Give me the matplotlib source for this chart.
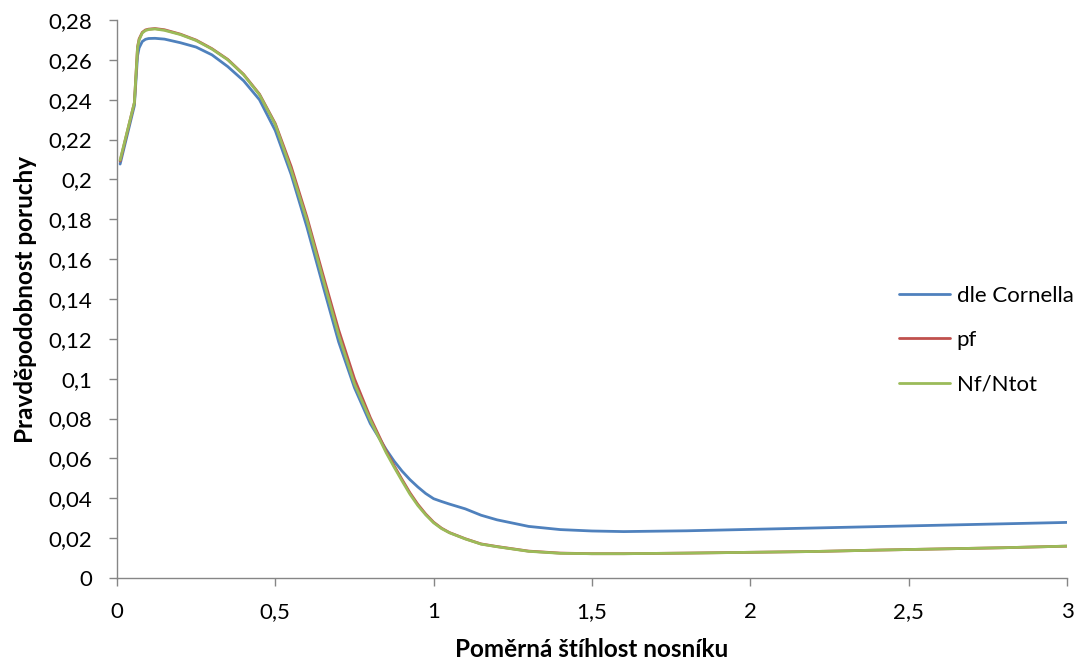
import matplotlib
matplotlib.use("Agg")
import matplotlib.pyplot as plt

plt.rcParams['font.family'] = ['Lato', 'DejaVu Sans']

x = [0.01, 0.055, 0.065, 0.07, 0.08, 0.09, 0.1, 0.12, 0.15, 0.2, 0.25, 0.3, 0.35, 0.4,
     0.45, 0.5, 0.55, 0.6, 0.65, 0.7, 0.75, 0.8, 0.85, 0.875, 0.9, 0.925, 0.95, 0.975,
     1.0, 1.025, 1.05, 1.1, 1.15, 1.2, 1.3, 1.4, 1.5, 1.6, 1.8, 2.0, 2.2, 2.4, 2.6,
     2.8, 3.0]

cornell = [0.2077, 0.2370, 0.2620, 0.2660, 0.2692, 0.2703, 0.2707, 0.2708, 0.2704, 0.2686,
           0.2664, 0.2625, 0.2566, 0.2495, 0.2400, 0.2245, 0.2025, 0.1760, 0.1470, 0.1185,
           0.0955, 0.0775, 0.0645, 0.0587, 0.0537, 0.0494, 0.0457, 0.0424, 0.0398, 0.0384,
           0.0371, 0.0347, 0.0315, 0.0292, 0.0259, 0.0243, 0.0236, 0.0233, 0.0237, 0.0244,
           0.0251, 0.0258, 0.0265, 0.0272, 0.0279]

pf = [0.2092, 0.2385, 0.2665, 0.2705, 0.2738, 0.2750, 0.2754, 0.2757, 0.2751, 0.2729,
      0.2699, 0.2656, 0.2602, 0.2527, 0.2428, 0.2280, 0.2065, 0.1810, 0.1525, 0.1245,
      0.1000, 0.0805, 0.0637, 0.0564, 0.0495, 0.0428, 0.0370, 0.0321, 0.0280, 0.0250,
      0.0228, 0.0197, 0.0171, 0.0158, 0.0135, 0.0125, 0.0122, 0.0122, 0.0125, 0.0129,
      0.0133, 0.0140, 0.0146, 0.0152, 0.0160]

nf = [0.2097, 0.2385, 0.2660, 0.2700, 0.2735, 0.2747, 0.2752, 0.2755, 0.2748, 0.2727,
      0.2697, 0.2654, 0.2600, 0.2525, 0.2425, 0.2275, 0.2048, 0.1795, 0.1505, 0.1220,
      0.0975, 0.0793, 0.0629, 0.0557, 0.0488, 0.0421, 0.0364, 0.0317, 0.0277, 0.0248,
      0.0227, 0.0196, 0.0170, 0.0157, 0.0134, 0.0124, 0.0122, 0.0122, 0.0125, 0.0129,
      0.0133, 0.0140, 0.0146, 0.0152, 0.0160]

labels = ['dle Cornella', 'pf', 'Nf/Ntot']
colors = ['#4F81BD', '#C0504D', '#9BBB59']

yticks = [i * 0.02 for i in range(15)]
ytick_labels = ['0', '0,02', '0,04', '0,06', '0,08', '0,1', '0,12', '0,14', '0,16',
                '0,18', '0,2', '0,22', '0,24', '0,26', '0,28']
xticks = [0, 0.5, 1, 1.5, 2, 2.5, 3]
xtick_labels = ['0', '0,5', '1', '1,5', '2', '2,5', '3']

fig = plt.figure(figsize=(10.92, 6.66), dpi=100)
ax = fig.add_axes([0.1071, 0.1321, 0.8700, 0.8379])

for ys, lab, c in zip([cornell, pf, nf], labels, colors):
    ax.plot(x, ys, color=c, lw=2.0, label=lab, solid_joinstyle='round', solid_capstyle='round')

ax.set_xlim(0, 3)
ax.set_ylim(0, 0.28)
ax.set_xticks(xticks)
ax.set_xticklabels(xtick_labels)
ax.set_yticks(yticks)
ax.set_yticklabels(ytick_labels)

for s in ['top', 'right']:
    ax.spines[s].set_visible(False)
for s in ['left', 'bottom']:
    ax.spines[s].set_color('#868686')
    ax.spines[s].set_linewidth(1.0)
ax.tick_params(axis='both', direction='out', length=6, width=1.0, color='#868686',
               labelsize=16, labelcolor='black')
ax.tick_params(axis='x', pad=11)
ax.tick_params(axis='y', pad=12)

ax.set_xlabel('Poměrná štíhlost nosníku', fontsize=17.5, fontweight='bold', labelpad=12)
ax.set_ylabel('Pravděpodobnost poruchy', fontsize=17.5, fontweight='bold', labelpad=8)

leg = ax.legend(loc='center left', bbox_to_anchor=(0.802, 0.4265), frameon=False,
                fontsize=16, handlelength=2.3, handletextpad=0.3, labelspacing=1.1)

fig.savefig('out.png', dpi=100)
